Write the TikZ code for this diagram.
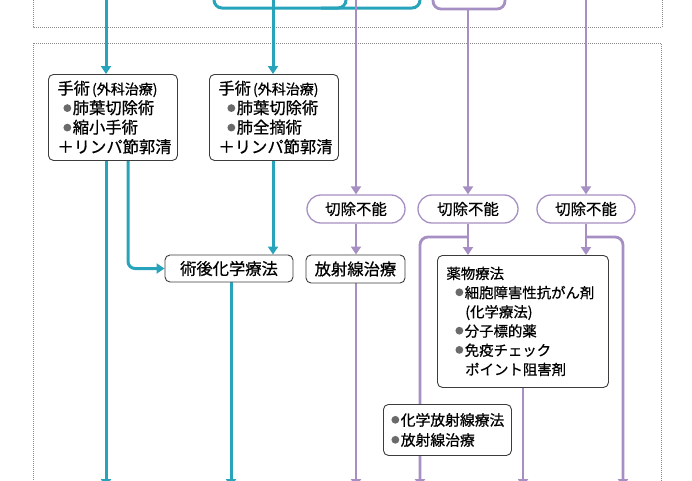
\documentclass[tikz,border=0pt]{standalone}
\usepackage{fontspec}
\setmainfont{Noto Sans CJK JP}[FakeBold=0.7]
\usetikzlibrary{arrows.meta,backgrounds}
\definecolor{cy}{HTML}{27A4BC}
\definecolor{pu}{HTML}{A68FC3}
\definecolor{bx}{HTML}{3C3C3C}
\definecolor{bl}{HTML}{6A6A6A}
\definecolor{dt}{HTML}{8A8A8A}
\newcommand\mybul{\tikz[baseline={(0,-5.8pt)}]\fill[bl](0,0)circle(3.9pt);\hspace{1.5pt}}
\newcommand\fa{\fontsize{16.3pt}{19.5pt}\selectfont}
\newcommand\fb{\fontsize{14.4pt}{19.2pt}\selectfont}
\newcommand\fc{\fontsize{14.8pt}{20pt}\selectfont}
\newcommand\mysm{\fontsize{14pt}{15pt}\selectfont}
\tikzset{
  tbox/.style={draw=bx, line width=0.9pt, rounded corners=5pt, fill=white, align=left,
    inner xsep=9pt, inner ysep=0pt, text=black, anchor=north west},
  sbox/.style={draw=bx, line width=0.9pt, rounded corners=5pt, fill=white, align=center,
    inner sep=0pt, font=\fa, text=black},
  pill/.style={draw=pu, line width=1.3pt, rounded corners=13.9pt, minimum width=98pt,
    minimum height=28pt, inner sep=0pt, fill=white, font=\fontsize{15.4pt}{18pt}\selectfont, text=black},
  cl/.style={draw=cy, line width=3pt},
  pl/.style={draw=pu, line width=2.8pt},
  arr/.style={-{Triangle[width=10pt,length=8pt]}},
  dotbox/.style={draw=dt, line width=0.7pt, dash pattern=on 1pt off 1pt}
}
\begin{document}
\begin{tikzpicture}[x=1pt,y=-1pt]
\useasboundingbox (0,0) rectangle (692,480);
% nodes
\node[tbox, font=\fa, text width=111pt, minimum height=86pt] (s1) at (48,74)
  {\mbox{手術\hspace{2pt}{\mysm(外科治療)}}\\\mbox{\hspace*{6pt}\mybul 肺葉切除術}\\\mbox{\hspace*{6pt}\mybul 縮小手術}\\\mbox{＋リンパ節郭清}};
\node[tbox, font=\fa, text width=111pt, minimum height=86pt] (s2) at (209,74)
  {\mbox{手術\hspace{2pt}{\mysm(外科治療)}}\\\mbox{\hspace*{9pt}\mybul 肺葉切除術}\\\mbox{\hspace*{9pt}\mybul 肺全摘術}\\\mbox{＋リンパ節郭清}};
\node[sbox, minimum width=128pt, minimum height=27pt] (pc) at (229,268.5) {術後化学療法};
\node[sbox, minimum width=99pt, minimum height=28pt] (rt) at (355.5,269) {放射線治療};
\node[pill] (p1) at (356,209) {切除不能};
\node[pill, minimum width=100pt] (p2) at (468,209) {切除不能};
\node[pill] (p3) at (586,209) {切除不能};
\node[tbox, font=\fb, text width=153pt, minimum height=132pt] (dr) at (437,255)
  {\mbox{薬物療法}\\\mbox{\hspace*{9pt}\mybul 細胞障害性抗がん剤}\\\mbox{\hspace*{18.8pt}(化学療法)}\\\mbox{\hspace*{9pt}\mybul 分子標的薬}\\\mbox{\hspace*{9pt}\mybul 免疫チェック}\\\mbox{\hspace*{18.8pt}ポイント阻害剤}};
\node[tbox, font=\fc, inner xsep=8pt, text width=112pt, minimum height=51pt] (cr) at (383,404)
  {\mbox{\mybul 化学放射線療法}\\\mbox{\mybul 放射線治療}};
% coordinates
\coordinate (c1) at (106,-5);
\coordinate (c2) at (273,-5);
\coordinate (k1) at (128,0);
\coordinate (b1) at (106,487);
\coordinate (b2) at (231,487);
\coordinate (q1) at (356,-5);
\coordinate (q2) at (468,9);
\coordinate (q3) at (586,-5);
\coordinate (b3) at (356,487);
\coordinate (b4) at (420,487);
\coordinate (b5) at (523,487);
\coordinate (b6) at (623,487);
\coordinate (j2) at (468,237);
\coordinate (j3) at (586,237);
\begin{pgfonlayer}{background}
\draw[dotbox] (33,-20) rectangle (662,27);
\draw[dotbox] (33,43) rectangle (661,500);
% top partial boxes
\draw[cl, rounded corners=8pt] (214,-12) -- (214,8) -- (346,8) -- (346,-12);
\draw[cl, rounded corners=8pt] (321,8) -- (420,8) -- (420,-12);
\draw[pl, rounded corners=8pt] (433,-12) -- (433,9) -- (505,9) -- (505,-12);
% cyan connectors
\draw[cl, arr] (c1) -- (c1 |- s1.north);
\draw[cl, arr] (c2) -- (c2 |- s2.north);
\draw[cl, arr] (b1 |- s1.south) -- (b1);
\draw[cl, arr, rounded corners=7pt] (k1 |- s1.south) -- (k1 |- pc.west) -- (pc.west);
\draw[cl, arr] (c2 |- s2.south) -- (c2 |- pc.north);
\draw[cl, arr] (b2 |- pc.south) -- (b2);
% purple connectors
\draw[pl, arr] (q1) -- (q1 |- p1.north);
\draw[pl, arr] (q1 |- p1.south) -- (q1 |- rt.north);
\draw[pl, arr] (b3 |- rt.south) -- (b3);
\draw[pl, arr] (q2) -- (q2 |- p2.north);
\draw[pl, arr] (p2.south) -- (p2.south |- dr.north);
\draw[pl, arr, rounded corners=8pt] (j2) -- (j2 -| b4) -- (b4);
\draw[pl, arr] (q3) -- (q3 |- p3.north);
\draw[pl, arr] (q3 |- p3.south) -- (q3 |- dr.north);
\draw[pl, arr, rounded corners=8pt] (j3) -- (j3 -| b6) -- (b6);
\draw[pl, arr] (b5 |- dr.south) -- (b5);
\end{pgfonlayer}
\end{tikzpicture}
\end{document}
